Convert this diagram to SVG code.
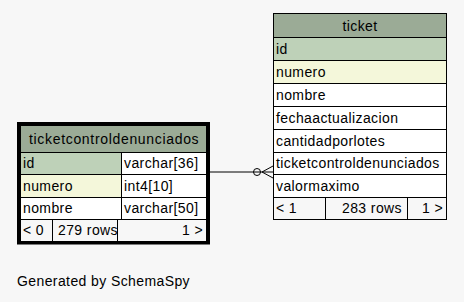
<svg xmlns="http://www.w3.org/2000/svg" width="464" height="302" viewBox="0 0 464 302">
  <style>
    text { font-family: "Liberation Sans", Arial, sans-serif; font-size: 14px; letter-spacing: 0.4px; fill: #000; }
    .cell { stroke: #000; stroke-width: 1; }
    .hdr { fill: #9bab96; }
    .pk { fill: #bed1b8; }
    .idx { fill: #f4f7da; }
    .plain { fill: #ffffff; }
    .foot { fill: #f7f7f7; }
    .end { text-anchor: end; }
    .mid { text-anchor: middle; }
    .conn { stroke: #000; stroke-width: 1; fill: none; }
  </style>
  <rect width="464" height="302" fill="#f7f7f7"/>

  <!-- relationship: ticket.ticketcontroldenunciados -> ticketcontroldenunciados.id -->
  <g id="connectors">
    <line class="conn" x1="209" y1="172" x2="273" y2="172"/>
    <circle class="conn" cx="257" cy="172" r="3.5" fill="#ffffff"/>
    <polyline class="conn" points="273,166 262,172 273,178"/>
  </g>

  <!-- ticket table -->
  <g id="ticket">
    <rect class="cell hdr" x="273.5" y="13.5" width="173" height="24"/>
    <rect class="cell pk" x="273.5" y="37.5" width="173" height="23"/>
    <rect class="cell idx" x="273.5" y="60.5" width="173" height="23"/>
    <rect class="cell plain" x="273.5" y="83.5" width="173" height="23"/>
    <rect class="cell plain" x="273.5" y="106.5" width="173" height="23"/>
    <rect class="cell plain" x="273.5" y="129.5" width="173" height="23"/>
    <rect class="cell plain" x="273.5" y="152.5" width="173" height="22"/>
    <rect class="cell plain" x="273.5" y="174.5" width="173" height="23"/>
    <rect class="cell foot" x="273.5" y="197.5" width="173" height="22"/>
    <line class="cell" x1="325.5" y1="197.5" x2="325.5" y2="219.5"/>
    <line class="cell" x1="407.5" y1="197.5" x2="407.5" y2="219.5"/>
    <text class="mid" x="360" y="31">ticket</text>
    <text x="276" y="54">id</text>
    <text x="276" y="77">numero</text>
    <text x="276" y="100">nombre</text>
    <text x="276" y="123">fechaactualizacion</text>
    <text x="276" y="146">cantidadporlotes</text>
    <text x="276" y="168">ticketcontroldenunciados</text>
    <text x="276" y="191">valormaximo</text>
    <text x="276" y="213">&lt; 1</text>
    <text class="end" x="402" y="213">283 rows</text>
    <text class="end" x="443" y="213">1 &gt;</text>
  </g>

  <!-- ticketcontroldenunciados table (focused, heavy border) -->
  <g id="ticketcontroldenunciados">
    <rect class="cell hdr" x="20.5" y="125.5" width="186" height="27"/>
    <rect class="cell pk" x="20.5" y="152.5" width="101" height="22"/>
    <rect class="cell plain" x="121.5" y="152.5" width="85" height="22"/>
    <rect class="cell idx" x="20.5" y="174.5" width="101" height="23"/>
    <rect class="cell plain" x="121.5" y="174.5" width="85" height="23"/>
    <rect class="cell plain" x="20.5" y="197.5" width="101" height="22"/>
    <rect class="cell plain" x="121.5" y="197.5" width="85" height="22"/>
    <rect class="cell foot" x="20.5" y="219.5" width="186" height="22"/>
    <line class="cell" x1="52.5" y1="219.5" x2="52.5" y2="241.5"/>
    <line class="cell" x1="117.5" y1="219.5" x2="117.5" y2="241.5"/>
    <rect x="18.5" y="123.5" width="190" height="119.5" fill="none" stroke="#000" stroke-width="3"/>
    <text class="mid" x="114" y="144" textLength="170" lengthAdjust="spacing">ticketcontroldenunciados</text>
    <text x="23" y="168">id</text>
    <text x="124" y="168">varchar[36]</text>
    <text x="23" y="191">numero</text>
    <text x="124" y="191">int4[10]</text>
    <text x="23" y="213">nombre</text>
    <text x="124" y="213">varchar[50]</text>
    <text x="23" y="235">&lt; 0</text>
    <text x="58" y="235">279 rows</text>
    <text class="end" x="203" y="235">1 &gt;</text>
  </g>

  <text x="17" y="286">Generated by SchemaSpy</text>
</svg>
